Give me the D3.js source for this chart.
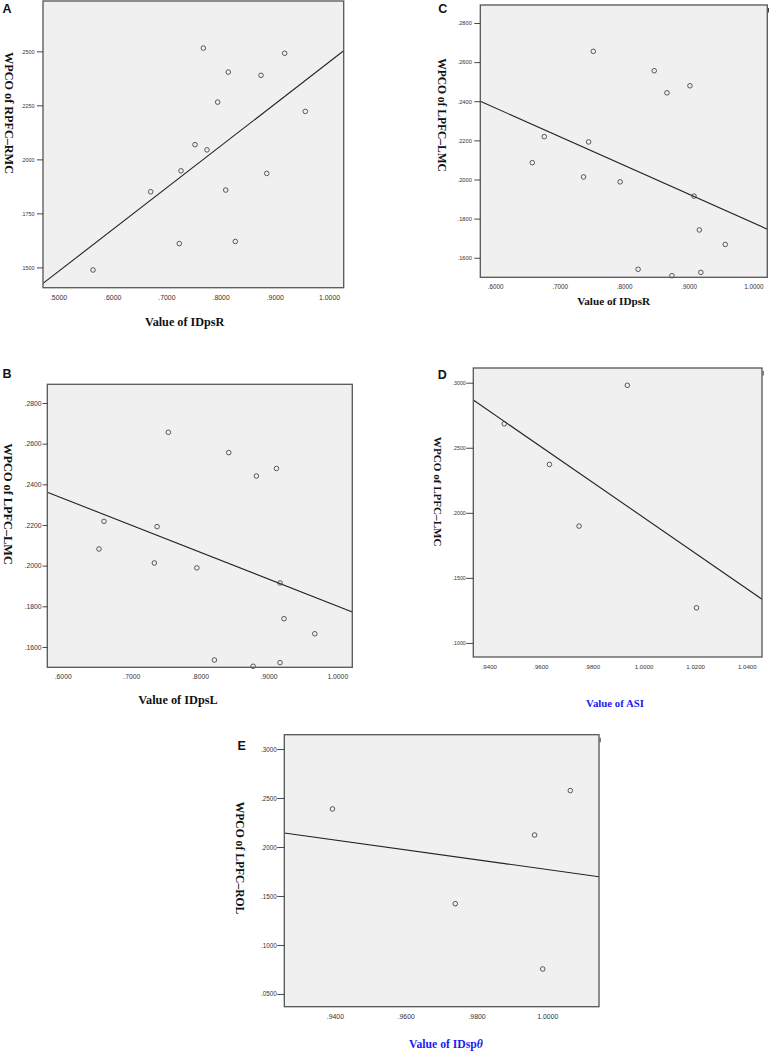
<!DOCTYPE html>
<html>
<head>
<meta charset="utf-8">
<script src="https://cdn.jsdelivr.net/npm/d3@7"></script>
<style>
  html, body { margin: 0; padding: 0; background: #fff; }
  svg { display: block; }
</style>
</head>
<body>
<svg id="chart" width="770" height="1052"></svg>
<script>
// ---------------- DATA ----------------
// Panel A: Value of IDpsR vs WPCO of RPFC–RMC
const aX = [0.7681, 0.9182, 0.8142, 0.8745, 0.7946, 0.9563, 0.7528, 0.7749, 0.7269, 0.8851, 0.6710, 0.8094, 0.7238, 0.8271, 0.5646];
const aY = [0.2515, 0.2491, 0.2404, 0.2389, 0.2265, 0.2222, 0.2068, 0.2044, 0.1947, 0.1935, 0.1850, 0.1858, 0.1610, 0.1620, 0.1488];
const aFit = [0.0509, 0.1941]; // intercept, slope
const aXTicks = [0.5, 0.6, 0.7, 0.8, 0.9, 1.0];
const aYTicks = [0.15, 0.175, 0.2, 0.225, 0.25];

// Panel C: Value of IDpsR vs WPCO of LPFC–LMC
const cX = [0.7522, 0.8466, 0.8663, 0.9019, 0.6763, 0.7450, 0.6577, 0.7371, 0.7938, 0.9082, 0.9164, 0.9566, 0.8216, 0.8740, 0.9188];
const cY = [0.2655, 0.2556, 0.2443, 0.2479, 0.2219, 0.2192, 0.2086, 0.2013, 0.1988, 0.1915, 0.1742, 0.1668, 0.1541, 0.1508, 0.1525];
const cFit = [0.3249, -0.1471];
const cXTicks = [0.6, 0.7, 0.8, 0.9, 1.0];
const cYTicks = [0.16, 0.18, 0.2, 0.22, 0.24, 0.26, 0.28];

// Panel B: Value of IDpsL vs WPCO of LPFC–LMC
const bX = [0.7539, 0.8419, 0.8822, 0.9114, 0.6602, 0.7375, 0.6529, 0.7335, 0.7955, 0.9166, 0.9224, 0.9673, 0.8210, 0.8774, 0.9166];
const bY = [0.2656, 0.2556, 0.2441, 0.2478, 0.2218, 0.2192, 0.2082, 0.2013, 0.1989, 0.1915, 0.1739, 0.1665, 0.1536, 0.1505, 0.1523];
const bFit = [0.3127, -0.1326];
const bXTicks = [0.6, 0.7, 0.8, 0.9, 1.0];
const bYTicks = [0.16, 0.18, 0.2, 0.22, 0.24, 0.26, 0.28];

// Panel D: Value of ASI vs WPCO of LPFC–LMC
const dX = [0.9937, 0.9460, 0.9635, 0.9750, 1.0205];
const dY = [0.2980, 0.2684, 0.2372, 0.1898, 0.1270];
const dFit = [1.5644, -1.368];
const dXTicks = [0.94, 0.96, 0.98, 1.0, 1.02, 1.04];
const dYTicks = [0.10, 0.15, 0.20, 0.25, 0.30];

// Panel E: Value of IDspθ vs WPCO of LPFC–ROL
const eX = [0.9393, 1.0065, 0.9964, 0.9740, 0.9987];
const eY = [0.2388, 0.2576, 0.2122, 0.1421, 0.0755];
const eFit = [0.6787, -0.5017];
const eXTicks = [0.94, 0.96, 0.98, 1.0];
const eYTicks = [0.05, 0.10, 0.15, 0.20, 0.25, 0.30];

// ---------------- LAYOUT ----------------
const panels = [
  { letter: "A", xs: aX, ys: aY, fit: aFit, xt: aXTicks, yt: aYTicks,
    box: [43, 343.7, 1, 287.7], xDom: [0.4723, 1.0271], yDom: [0.1406, 0.2733],
    letterPos: [2.5, 12.7], letterSize: 12.5,
    yLab: { text: "WPCO of RPFC–RMC", x: 8.5, y: 113, size: 12.2 },
    xLab: { text: "Value of IDpsR", x: 184.7, y: 326, size: 12.2, color: "#111" },
    yTickSize: 5.4, xTickSize: 6.9, xTickOff: 10, tickLen: 6, tickPad: 2.5, mark: false },
  { letter: "C", xs: cX, ys: cY, fit: cFit, xt: cXTicks, yt: cYTicks,
    box: [480.3, 767.3, 5, 277.3], xDom: [0.5772, 1.0217], yDom: [0.1500, 0.2892],
    letterPos: [438.3, 12.7], letterSize: 12.5,
    yLab: { text: "WPCO of LPFC–LMC", x: 441.7, y: 115, size: 11.5 },
    xLab: { text: "Value of IDpsR", x: 613.7, y: 304.8, size: 11.2, color: "#111" },
    yTickSize: 5.7, xTickSize: 6.3, xTickOff: 9.4, tickLen: 6, tickPad: 2.5, mark: true },
  { letter: "B", xs: bX, ys: bY, fit: bFit, xt: bXTicks, yt: bYTicks,
    box: [47.3, 352.3, 384.3, 667.3], xDom: [0.5776, 1.0219], yDom: [0.1500, 0.2892],
    letterPos: [2.5, 377.7], letterSize: 12.5,
    yLab: { text: "WPCO of LPFC–LMC", x: 8.3, y: 504, size: 12.3 },
    xLab: { text: "Value of IDpsL", x: 178, y: 704, size: 12.3, color: "#111" },
    yTickSize: 6.8, xTickSize: 6.8, xTickOff: 9.4, tickLen: 4.7, tickPad: 1, mark: false },
  { letter: "D", xs: dX, ys: dY, fit: dFit, xt: dXTicks, yt: dYTicks,
    box: [473.3, 762, 368, 657], xDom: [0.934, 1.0459], yDom: [0.0892, 0.3113],
    letterPos: [437.7, 379], letterSize: 12.5,
    yLab: { text: "WPCO of LPFC–LMC", x: 438.3, y: 491.7, size: 11.1 },
    xLab: { text: "Value of ASI", x: 615, y: 707, size: 10.8, color: "#1c1cf0" },
    yTickSize: 5.3, xTickSize: 6.1, xTickOff: 9.7, tickLen: 7, tickPad: 0.5, mark: true },
  { letter: "E", xs: eX, ys: eY, fit: eFit, xt: eXTicks, yt: eYTicks,
    box: [284.3, 599, 734.7, 1006.7], xDom: [0.9257, 1.0146], yDom: [0.037, 0.3146],
    letterPos: [237.5, 750], letterSize: 12.5,
    yLab: { text: "WPCO of LPFC–ROL", x: 239.3, y: 858, size: 11.6 },
    xLab: { text: "Value of IDsp", theta: "θ", x: 446, y: 1048, size: 11.7, color: "#1c1cf0" },
    yTickSize: 6.3, xTickSize: 6.9, xTickOff: 10, tickLen: 7, tickPad: 0.5, mark: true }
];

const svg = d3.select("#chart");
const SANS = "'Liberation Sans', Arial, sans-serif";
const SERIF = "'Liberation Serif', 'Times New Roman', serif";
const fmt = d => d3.format(".4f")(d).replace(/^0/, "");

panels.forEach((p, i) => {
  const [x0, x1, y0, y1] = p.box;
  const x = d3.scaleLinear().domain(p.xDom).range([x0, x1]);
  const y = d3.scaleLinear().domain(p.yDom).range([y1, y0]);
  const g = svg.append("g");

  // plot area
  g.append("rect")
    .attr("x", x0).attr("y", y0).attr("width", x1 - x0).attr("height", y1 - y0)
    .attr("fill", "#f0f0f0").attr("stroke", "none");

  const clipId = "clip" + i;
  svg.append("clipPath").attr("id", clipId).append("rect")
    .attr("x", x0).attr("y", y0).attr("width", x1 - x0).attr("height", y1 - y0);

  // fit line
  const lineData = p.xDom.map(v => [v, p.fit[0] + p.fit[1] * v]);
  g.append("path")
    .attr("clip-path", `url(#${clipId})`)
    .attr("d", d3.line().x(d => x(d[0])).y(d => y(d[1]))(lineData))
    .attr("stroke", "#222").attr("stroke-width", 1.1).attr("fill", "none");

  // points
  g.append("g").selectAll("circle")
    .data(p.xs.map((v, k) => [v, p.ys[k]]))
    .join("circle")
    .attr("cx", d => x(d[0])).attr("cy", d => y(d[1])).attr("r", 2.3)
    .attr("fill", "none").attr("stroke", "#333").attr("stroke-width", 0.8);

  // box frame
  g.append("rect")
    .attr("x", x0).attr("y", y0).attr("width", x1 - x0).attr("height", y1 - y0)
    .attr("fill", "none").attr("stroke", "#555").attr("stroke-width", 1.3);

  // y axis
  const ya = g.append("g").attr("transform", `translate(${x0},0)`)
    .call(d3.axisLeft(y).tickValues(p.yt).tickFormat(fmt).tickSize(p.tickLen).tickPadding(p.tickPad));
  ya.select(".domain").remove();
  ya.selectAll("line").attr("stroke", "#333").attr("stroke-width", 0.9);
  ya.selectAll("text").attr("font-family", SANS).attr("font-size", p.yTickSize).attr("fill", "#333");

  // x axis
  const xa = g.append("g").attr("transform", `translate(0,${y1})`)
    .call(d3.axisBottom(x).tickValues(p.xt).tickFormat(fmt).tickSize(0).tickPadding(0));
  xa.select(".domain").remove();
  xa.selectAll("text").attr("font-family", SANS).attr("font-size", p.xTickSize).attr("fill", "#333")
    .attr("dy", null).attr("y", p.xTickOff).attr("dominant-baseline", "central");

  // small mark at top right corner
  if (p.mark) {
    g.append("line").attr("x1", x1 + 1.2).attr("x2", x1 + 1.2).attr("y1", y0 + 3).attr("y2", y0 + 7.5)
      .attr("stroke", "#444").attr("stroke-width", 1);
  }

  // panel letter
  svg.append("text").attr("x", p.letterPos[0]).attr("y", p.letterPos[1])
    .attr("font-family", SANS).attr("font-weight", "bold").attr("font-size", p.letterSize)
    .attr("fill", "#111").text(p.letter);

  // y label (rotated clockwise)
  svg.append("text")
    .attr("transform", `translate(${p.yLab.x},${p.yLab.y}) rotate(90)`)
    .attr("text-anchor", "middle").attr("dominant-baseline", "central")
    .attr("font-family", SERIF).attr("font-weight", "bold").attr("font-size", p.yLab.size)
    .attr("fill", "#111").text(p.yLab.text);

  // x label
  const xl = svg.append("text").attr("x", p.xLab.x).attr("y", p.xLab.y)
    .attr("text-anchor", "middle")
    .attr("font-family", SERIF).attr("font-weight", "bold").attr("font-size", p.xLab.size)
    .attr("fill", p.xLab.color);
  xl.append("tspan").text(p.xLab.text);
  if (p.xLab.theta) xl.append("tspan").attr("font-style", "italic").text(p.xLab.theta);
});
</script>
</body>
</html>
